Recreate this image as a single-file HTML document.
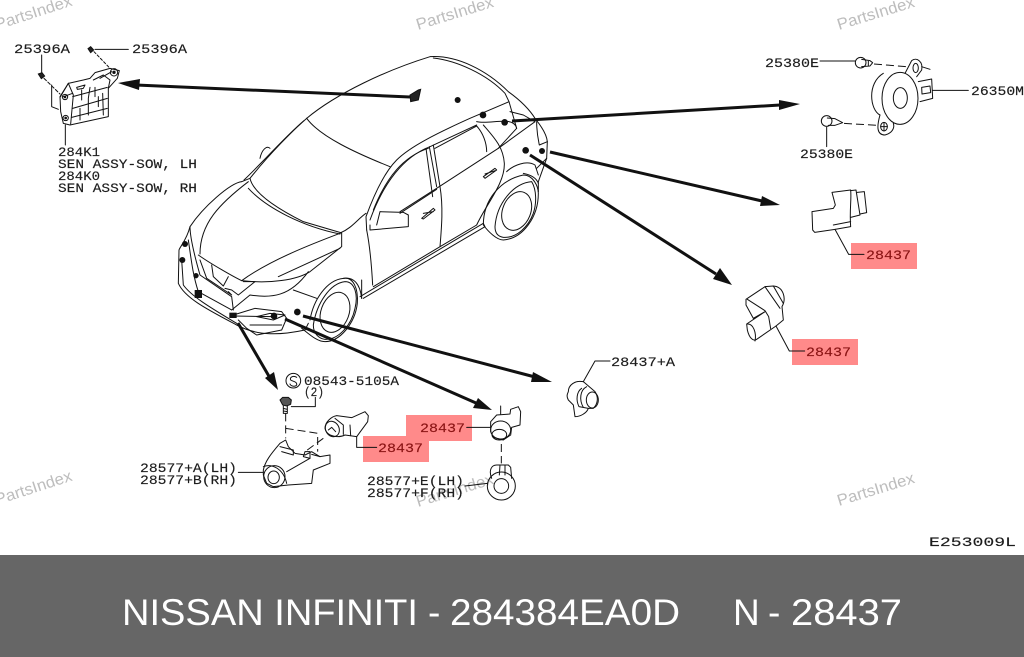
<!DOCTYPE html>
<html><head><meta charset="utf-8"><title>NISSAN INFINITI - 284384EA0D</title>
<style>
html,body{margin:0;padding:0;background:#fff;width:1024px;height:657px;overflow:hidden}
svg{display:block}
text{font-family:"Liberation Mono",monospace}
.t{font-size:13px;fill:#1c1c1c;stroke:#1c1c1c;stroke-width:.15}
.r{font-size:13px;fill:#8a1414;stroke:#8a1414;stroke-width:.15}
.w{font-family:"Liberation Sans",sans-serif;font-size:16px;fill:#bdbdbd}
.b{font-family:"Liberation Sans",sans-serif;font-size:37px;fill:#fff}
.l{fill:none;stroke:#111;stroke-width:3;stroke-linejoin:round;stroke-linecap:round}
.d{fill:none;stroke:#111;stroke-width:3;stroke-dasharray:24 12}
.a{stroke:#111;stroke-width:3;fill:none}
</style></head><body>
<svg width="1024" height="657" viewBox="0 0 1024 657" xmlns="http://www.w3.org/2000/svg">
<rect width="1024" height="657" fill="#fff"/>

<!-- watermarks -->
<text class="w" transform="translate(-3,30) rotate(-18)" textLength="80" lengthAdjust="spacingAndGlyphs">PartsIndex</text>
<text class="w" transform="translate(418,30) rotate(-17)" textLength="80" lengthAdjust="spacingAndGlyphs">PartsIndex</text>
<text class="w" transform="translate(839,30) rotate(-17)" textLength="80" lengthAdjust="spacingAndGlyphs">PartsIndex</text>
<text class="w" transform="translate(-3,505) rotate(-18)" textLength="80" lengthAdjust="spacingAndGlyphs">PartsIndex</text>
<text class="w" transform="translate(418,507) rotate(-17)" textLength="80" lengthAdjust="spacingAndGlyphs">PartsIndex</text>
<text class="w" transform="translate(839,506) rotate(-17)" textLength="80" lengthAdjust="spacingAndGlyphs">PartsIndex</text>

<!-- red highlights -->
<rect x="851" y="243" width="66" height="26" fill="#ff8a8a"/>
<rect x="792" y="339" width="66" height="26" fill="#ff8a8a"/>
<rect x="406" y="415" width="66" height="26" fill="#ff8a8a"/>
<rect x="363" y="436" width="66" height="26" fill="#ff8a8a"/>

<!-- CAR -->
<g transform="translate(170,50) scale(.33333)">
<path class="l" d="M410,205 C500,130 650,60 780,20 C860,15 950,60 1015,125 C1050,150 1080,180 1097,208 C1115,230 1130,255 1132,275 L1130,325 L1105,395 L1105,425"/>
<path class="l" d="M790,24 C860,32 950,72 1005,130 L1017,155 L900,205 C800,250 720,290 680,330 C640,370 610,440 588,500 L590,540"/>
<path class="l" d="M410,205 C450,260 560,310 660,350"/>
<path class="l" d="M410,205 C370,240 300,310 240,385 L215,395"/>
<path class="l" d="M402,212 C350,255 290,325 222,390"/>
<path class="l" d="M270,325 C275,300 290,285 300,295"/>
<path class="l" d="M240,385 C250,430 320,475 400,515 L512,548"/>
<path class="l" d="M235,415 C290,475 400,530 510,552"/>
<path class="l" d="M512,548 C545,535 565,505 588,490"/>
<path class="l" d="M215,395 C180,400 100,470 60,530 C50,570 30,590 27,600 L25,700 C45,745 115,780 200,825 C265,860 335,855 405,840 L415,820"/>
<path class="l" d="M90,612 C90,520 150,460 235,395"/>
<path class="l" d="M85,615 C120,640 190,680 215,692 C300,702 380,690 420,665 L515,590 L515,548 C430,580 300,630 215,692"/>
<path class="l" d="M325,680 L510,595"/>
<path class="l" d="M60,530 C60,570 80,640 90,675 L185,740 L190,780"/>
<path class="l" d="M55,570 C65,640 70,680 85,725 L185,780"/>
<path class="l" d="M35,630 L40,705 C65,740 125,775 200,820"/>
<path class="l" d="M90,630 L110,685 L185,735 L175,725"/>
<path class="l" d="M125,645 L130,680 L160,708 L175,680"/>
<path class="l" d="M220,695 L255,695 L205,735 L185,720 L165,715"/>
<path class="l" d="M185,780 L240,735 C305,745 360,740 415,665"/>
<path class="l" d="M370,720 L440,745"/>
<path class="l" d="M190,795 L255,775 L335,785 L350,805 L335,840 L260,855 L230,835 L205,810"/>
<path class="l" d="M260,800 L300,790 L345,795 L310,810 Z"/>
<path class="l" d="M240,825 L335,825"/>
<path class="l" d="M190,798 L310,800" />
<!-- side -->
<path class="l" d="M1017,155 L1040,235 L985,295 L800,415 L690,485"/>
<path class="l" d="M920,215 C960,225 1030,195 1040,235"/>
<path class="l" d="M600,510 C640,400 700,320 780,290 L920,225"/>
<path class="l" d="M610,480 C650,380 700,320 775,295"/>
<path class="l" d="M768,295 L788,440"/>
<path class="l" d="M778,290 L800,410"/>
<path class="l" d="M790,285 L810,410 C820,470 815,530 810,590"/>
<path class="l" d="M795,295 L920,228 C940,250 950,280 950,305"/>
<path class="l" d="M940,225 C970,260 1000,290 1003,340 C1005,400 950,460 920,525"/>
<path class="l" d="M1095,215 L985,295"/>
<path class="l" d="M590,540 C600,590 605,650 608,705"/>
<path class="l" d="M600,525 L600,540 L715,530 L715,495 L700,487 L630,485 L620,525"/>
<path class="l" d="M690,490 L800,418"/>
<path class="l" d="M570,740 L940,520 L945,530 L580,745"/>
<path class="l" d="M575,690 L575,745"/>
<path class="l" d="M610,710 L810,590 L920,525"/>
<path class="l" d="M1010,365 C1030,345 1070,330 1095,345 L1105,375 M1060,370 C1085,375 1100,385 1105,400"/>
<path class="l" d="M1100,215 C1100,250 1105,270 1108,285 L1132,275 M1130,325 L1100,355"/>
<path class="l" d="M1020,185 L1060,195 L1095,215"/>
<!-- badges -->
<path class="l" d="M940,380 L975,355 L980,360 L945,385 Z M945,372 L975,362"/>
<path class="l" d="M755,505 L790,475 L795,480 L760,507 Z M760,490 L790,485"/>
<!-- rear wheel -->
<path class="l" d="M940,525 C940,450 990,390 1060,375 C1090,375 1105,410 1105,430 C1105,500 1060,565 1000,570 C980,570 955,545 940,525"/>
<path class="l" d="M975,530 C980,460 1030,400 1085,395 C1100,420 1100,460 1090,490 C1075,530 1040,565 1000,562 C985,560 975,550 975,530Z"/>
<ellipse class="l" cx="1040" cy="483" rx="42" ry="60" transform="rotate(22 1040 483)"/>
<!-- front wheel -->
<path class="l" d="M420,810 C430,750 470,690 520,685 C550,680 565,715 562,760 C555,820 510,875 465,875 C440,875 415,850 395,835"/>
<path class="l" d="M430,825 C440,760 480,700 525,695 C555,695 565,735 555,775 C545,825 505,870 465,868 C445,865 430,850 430,825Z"/>
<ellipse class="l" cx="495" cy="787" rx="42" ry="62" transform="rotate(20 495 787)"/>
<path class="l" d="M520,685 C550,680 570,700 575,745"/>
<!-- sensor clip -->
<path d="M720,135 L745,120 L752,118 L745,150 L722,155 Z" fill="#222" stroke="#111" stroke-width="3"/>
<g fill="#111" stroke="none">
<circle cx="863" cy="150" r="9"/><circle cx="939" cy="195" r="10"/><circle cx="1004" cy="217" r="10"/>
<circle cx="1067" cy="301" r="10"/><circle cx="1116" cy="303" r="9"/><circle cx="382" cy="786" r="10"/>
<circle cx="312" cy="798" r="10"/><circle cx="45" cy="582" r="9"/><circle cx="37" cy="630" r="9"/>
<circle cx="78" cy="677" r="8"/><rect x="74" y="720" width="22" height="24"/><rect x="178" y="788" width="22" height="16"/>
</g>
</g>

<!-- ARROWS -->
<g class="a">
<line x1="410" y1="97" x2="136" y2="85"/><line x1="512" y1="121" x2="780" y2="105"/>
<line x1="550" y1="152" x2="762" y2="201"/><line x1="530" y1="155" x2="716" y2="274"/>
<line x1="303" y1="316" x2="535" y2="377"/><line x1="238" y1="323" x2="270" y2="378"/>
<line x1="285" y1="319" x2="476" y2="403"/>
</g>
<g fill="#111">
<polygon points="118,83 140,79 139,90"/>
<polygon points="800,104 779,100 779,110"/>
<polygon points="780,205 762,196 760,206"/>
<polygon points="732,285 720,268 713,279"/>
<polygon points="552,382 533,372 531,382"/>
<polygon points="278,390 274,372 265,378"/>
<polygon points="492,410 478,398 473,408"/>
</g>

<!-- LEFT ASSEMBLY -->
<g transform="scale(.33333)">
<path class="l" d="M125,165 L125,222"/>
<path class="l" d="M285,148 L385,148"/>
<path class="l" d="M282,155 L330,205" stroke-dasharray="8 6"/>
<path class="l" d="M132,235 L180,282" stroke-dasharray="10 6"/>
<path class="l" d="M155,255 L155,320 L175,328"/>
<path d="M115,222 L126,218 L134,228 L124,236 Z" fill="#222" stroke="#111" stroke-width="3"/>
<path d="M264,146 L272,140 L281,150 L272,158 Z" fill="#222" stroke="#111" stroke-width="3"/>
<path class="l" d="M180,290 L205,250 L250,240 L270,235 L285,218 L330,205 L358,212 L352,235 L325,265 L325,350 L210,375 L190,370 L182,335 Z"/>
<path class="l" d="M205,250 L220,285 L212,372"/>
<path class="l" d="M180,292 L205,250 M190,290 L218,280"/>
<path class="l" d="M218,290 L322,262 M218,325 L322,295 M215,352 L322,325"/>
<path class="l" d="M245,270 L245,300 M265,295 L265,345 M285,262 L285,290 M308,280 L310,345 M240,325 L240,360 M270,262 L265,295 M295,290 L295,320"/>
<path class="l" d="M230,262 L255,255 L250,265 L232,268 Z"/>
<path class="l" d="M280,240 L310,225 L330,240 L325,265 M300,235 L335,215"/>
<circle class="l" cx="195" cy="291" r="8"/><circle cx="195" cy="291" r="4" fill="#111"/>
<circle class="l" cx="197" cy="354" r="8"/><circle cx="197" cy="354" r="4" fill="#111"/>
<circle class="l" cx="342" cy="217" r="11"/><circle cx="342" cy="217" r="5" fill="#111"/>
<path class="l" d="M196,375 L196,435"/>
</g>

<!-- RIGHT TOP + SENSORS -->
<g transform="translate(720,40) scale(.33333)">
<path class="l" d="M300,63 L405,63"/>
<circle class="l" cx="422" cy="68" r="16"/><path class="l" d="M425,58 L450,62 L458,68 L450,78 L425,80 M445,62 L445,78"/>
<path class="d" d="M462,72 L560,80"/>
<path class="l" d="M490,100 C440,130 450,210 480,225"/>
<ellipse class="l" cx="540" cy="175" rx="54" ry="78"/>
<ellipse class="l" cx="541" cy="174" rx="21" ry="31"/>
<path class="l" d="M555,100 L575,62 C590,50 610,65 605,90 L590,110"/>
<ellipse class="l" cx="587" cy="84" rx="8" ry="14"/>
<path class="l" d="M595,125 L635,117 L638,175 L600,185"/>
<path class="l" d="M605,142 L630,138 L632,158 L606,162 Z"/>
<path class="l" d="M605,80 L630,88 M638,151 L745,151"/>
<path class="l" d="M480,225 C470,260 470,285 495,285 C515,280 525,265 520,250"/>
<ellipse class="l" cx="492" cy="260" rx="10" ry="13"/>
<path class="l" d="M482,260 L502,260 M492,248 L492,272"/>
<path class="d" d="M372,250 L470,256"/>
<circle class="l" cx="320" cy="243" r="16"/><path class="l" d="M322,234 L345,236 L368,248 L345,256 L325,256"/>
<path class="l" d="M320,262 L320,320"/>
<!-- upper sensor -->
<path class="l" d="M336,457 L392,450 C395,480 388,510 392,560 L345,568 L284,577 L278,570 L276,515 L340,505 L346,495 Z"/>
<path class="l" d="M392,452 L408,450 L420,525 L392,532 M412,457 L433,455 L440,518 L420,522"/>
<path class="l" d="M340,555 L392,545"/>
<path class="l" d="M345,568 L386,643 L432,643"/>
<!-- lower sensor -->
<path class="l" d="M78,778 L135,740 L160,738 C190,740 200,775 186,800 L190,840 L168,858 L110,898 C100,905 88,895 82,870 L80,852 L135,815 L100,835 L78,795 Z"/>
<path class="l" d="M82,778 L135,812 L146,830 L152,866"/>
<path class="l" d="M135,740 L180,805 M160,738 L190,790"/>
<path class="l" d="M82,852 C100,850 110,880 105,903"/>
<path class="l" d="M168,858 L208,933 L254,933"/>
</g>

<!-- BOTTOM ASSEMBLY -->
<g transform="translate(130,350) scale(.33333)">
<circle class="l" cx="490" cy="92" r="22"/>
<path class="l" d="M500,82 C490,75 478,82 482,90 C490,95 502,95 500,105 C495,112 482,108 480,102"/>
<path d="M450,150 L458,142 L475,142 L484,150 L482,163 L470,168 L458,165 Z" fill="#555" stroke="#111" stroke-width="3"/>
<path class="l" d="M460,168 L460,190 L472,190 L472,168 M460,175 L472,178 M460,183 L472,185"/>
<path class="l" d="M484,170 L556,170 L556,142"/>
</g>
<g transform="translate(255,395) scale(.33333)">
<path class="d" d="M92,55 L92,130"/>
<path class="d" d="M92,100 L188,115 L188,170"/>
<path class="d" d="M205,130 L150,170"/>
<path class="l" d="M25,225 C30,200 45,180 75,145 L92,135 L100,155 L120,175 L150,180 L170,170 L195,185 L225,180 L225,205 L175,225 L170,265 L100,270 L55,275 L35,265 L25,240 Z"/>
<ellipse class="l" cx="58" cy="245" rx="32" ry="33"/>
<ellipse class="l" cx="56" cy="247" rx="17" ry="19"/>
<path class="l" d="M25,215 C50,205 85,220 95,265 M95,230 L165,190 M75,155 L115,165 L115,180 L80,170"/>
<path class="l" d="M145,185 L150,170 L165,170 L165,190 Z M170,178 L195,185"/>
<path class="l" d="M-50,232 L25,232"/>
<!-- small sensor -->
<path class="l" d="M210,100 C210,80 230,65 245,62 L290,68 L330,50 L340,62 L338,80 L305,125 L270,120 C250,130 215,125 210,100 Z"/>
<ellipse class="l" cx="232" cy="102" rx="20" ry="24" transform="rotate(-30 232 102)"/>
<path class="l" d="M220,105 L230,97 L242,110 M240,70 L265,90 L265,118 M285,90 L287,122"/>
<path class="l" d="M305,125 L305,157 L365,157"/>
</g>
<g transform="translate(130,350) scale(.33333)">
<!-- right sensor -->
<path class="l" d="M1112,168 L1112,192"/>
<path class="l" d="M1082,215 L1100,195 L1140,192 L1142,178 L1165,170 L1172,185 L1170,225 L1145,232 L1142,255 L1120,270 L1090,262 L1082,245 Z"/>
<ellipse class="l" cx="1112" cy="240" rx="30" ry="27"/>
<ellipse class="l" cx="1108" cy="254" rx="22" ry="16"/>
<path class="l" d="M1010,232 L1082,232"/>
<path class="d" d="M1114,282 L1114,340"/>
<path class="l" d="M1085,385 C1075,360 1085,345 1100,345 L1135,345 L1142,352 L1145,385"/>
<circle class="l" cx="1114" cy="408" r="42"/>
<circle class="l" cx="1114" cy="408" r="22"/>
<path class="l" d="M1110,345 L1108,375 M1125,345 L1125,375"/>
<path class="l" d="M1005,408 L1072,400"/>
</g>

<!-- 28437+A sensor -->
<g transform="translate(555,350) scale(.33333)">
<path class="l" d="M85,95 L120,33 L165,33"/>
<path class="l" d="M40,125 C40,105 60,90 85,95 L120,125 C130,140 130,160 115,175 L100,175 C95,190 75,200 60,200 L55,165 L40,150 C35,140 35,135 40,125 Z"/>
<ellipse class="l" cx="112" cy="150" rx="18" ry="24"/>
<path class="l" d="M80,115 C65,125 62,150 72,170 L100,175 M95,110 C75,120 72,150 85,172"/>
</g>

<!-- LABELS -->
<text class="t" x="14" y="53" textLength="56" lengthAdjust="spacingAndGlyphs">25396A</text>
<text class="t" x="132" y="53" textLength="55" lengthAdjust="spacingAndGlyphs">25396A</text>
<text class="t" x="58" y="156" textLength="42" lengthAdjust="spacingAndGlyphs">284K1</text>
<text class="t" x="58" y="168" textLength="139" lengthAdjust="spacingAndGlyphs">SEN ASSY-SOW, LH</text>
<text class="t" x="58" y="180" textLength="42" lengthAdjust="spacingAndGlyphs">284K0</text>
<text class="t" x="58" y="192" textLength="139" lengthAdjust="spacingAndGlyphs">SEN ASSY-SOW, RH</text>
<text class="t" x="765" y="67" textLength="54" lengthAdjust="spacingAndGlyphs">25380E</text>
<text class="t" x="971" y="95" textLength="53" lengthAdjust="spacingAndGlyphs">26350M</text>
<text class="t" x="800" y="158" textLength="53" lengthAdjust="spacingAndGlyphs">25380E</text>
<text class="r" x="866" y="259" textLength="45" lengthAdjust="spacingAndGlyphs">28437</text>
<text class="r" x="806" y="356" textLength="45" lengthAdjust="spacingAndGlyphs">28437</text>
<text class="t" x="611" y="366" textLength="64" lengthAdjust="spacingAndGlyphs">28437+A</text>
<text class="t" x="304" y="385" textLength="95" lengthAdjust="spacingAndGlyphs">08543-5105A</text>
<text class="t" x="304" y="396" textLength="20" lengthAdjust="spacingAndGlyphs">(2)</text>
<text class="r" x="420" y="432" textLength="45" lengthAdjust="spacingAndGlyphs">28437</text>
<text class="r" x="378" y="452" textLength="45" lengthAdjust="spacingAndGlyphs">28437</text>
<text class="t" x="140" y="472" textLength="97" lengthAdjust="spacingAndGlyphs">28577+A(LH)</text>
<text class="t" x="140" y="484" textLength="97" lengthAdjust="spacingAndGlyphs">28577+B(RH)</text>
<text class="t" x="367" y="485" textLength="97" lengthAdjust="spacingAndGlyphs">28577+E(LH)</text>
<text class="t" x="367" y="497" textLength="97" lengthAdjust="spacingAndGlyphs">28577+F(RH)</text>
<text class="t" x="929" y="546" textLength="87" lengthAdjust="spacingAndGlyphs">E253009L</text>

<!-- bottom band -->
<rect x="0" y="555" width="1024" height="102" fill="#666"/>
<text class="b" x="122" y="625" textLength="296" lengthAdjust="spacingAndGlyphs">NISSAN INFINITI</text>
<text class="b" x="428" y="625">-</text>
<text class="b" x="450" y="625" textLength="230" lengthAdjust="spacingAndGlyphs">284384EA0D</text>
<text class="b" x="733" y="625">N</text>
<text class="b" x="768" y="625">-</text>
<text class="b" x="791" y="625" textLength="111" lengthAdjust="spacingAndGlyphs">28437</text>
</svg>
</body></html>
